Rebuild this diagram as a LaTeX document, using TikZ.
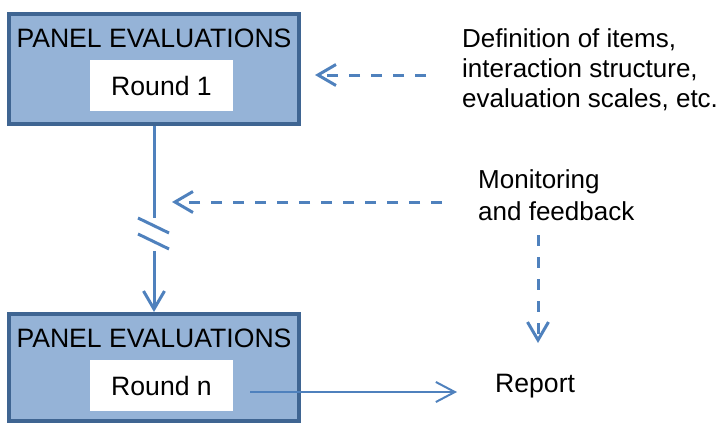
\documentclass[tikz,border=0pt]{standalone}
\usepackage{fontspec}
\setmainfont{Liberation Sans}
\usetikzlibrary{arrows.meta}
\definecolor{panelfill}{HTML}{95B3D7}
\definecolor{panelline}{HTML}{3F6592}
\definecolor{flowblue}{HTML}{4F81BD}
\begin{document}
\begin{tikzpicture}[x=1pt,y=-1pt,
  every node/.style={font=\fontsize{26.6}{30}\selectfont, text=black},
  panel/.style={draw=panelline, fill=panelfill, line width=4pt,
    minimum width=290pt, inner sep=0pt},
  roundbox/.style={fill=white, minimum width=143pt, minimum height=51pt, inner sep=0pt},
  tiphead/.style={-{Straight Barb[length=18pt,width=21pt,line width=3pt]}},
  flow/.style={draw=flowblue, line width=3pt},
  feed/.style={flow, dash pattern=on 11pt off 11pt, tiphead},
  outflow/.style={draw=flowblue, line width=2pt,
    -{Straight Barb[length=19pt,width=20pt,line width=2pt]}},
  note/.style={align=left, inner sep=0pt, anchor=west}]
\useasboundingbox (0,0) rectangle (722,423);

% first round
\node[panel, minimum height=110pt] (p1) at (154,69) {};
\node[anchor=base, inner sep=0pt] (t1) at (154,47) {PANEL EVALUATIONS};
\node[roundbox] (r1) at (161.5,85.5) {Round 1};

% last round
\node[panel, minimum height=107pt] (p2) at (154,367.5) {};
\node[anchor=base, inner sep=0pt] (t2) at (154,347) {PANEL EVALUATIONS};
\node[roundbox] (r2) at (161.5,385.5) {Round n};

% broken link between the rounds
\coordinate (b1) at (154,218);
\coordinate (b2) at (154,251);
\coordinate (s1a) at (138,218);
\coordinate (s1b) at (169,233);
\coordinate (s2a) at (138,234);
\coordinate (s2b) at (169,249);
\draw[flow] (p1.south) -- (b1);
\draw[flow, tiphead] (b2) -- (p2.north);
\draw[flow] (s1a) -- (s1b);
\draw[flow] (s2a) -- (s2b);

% side inputs
\node[note, font=\fontsize{26}{30}\selectfont] (defs) at (462,70) {Definition of items,\\interaction structure,\\evaluation scales, etc.};
\coordinate (d1s) at (426,75);
\coordinate (d1e) at (315,75);
\draw[feed] (d1s) -- (d1e);

\node[note, font=\fontsize{26}{32}\selectfont] (mon) at (478,195) {Monitoring\\and feedback};
\coordinate (d2s) at (442,202);
\coordinate (d2e) at (172,202);
\draw[feed] (d2s) -- (d2e);

\coordinate (d3s) at (538,235);
\coordinate (d3e) at (538,343);
\draw[feed] (d3s) -- (d3e);

% output
\node[anchor=base west, inner sep=0pt] (rep) at (495,392) {Report};
\coordinate (o1) at (250,392);
\coordinate (o2) at (457,392);
\draw[outflow] (o1) -- (o2);
\end{tikzpicture}
\end{document}
